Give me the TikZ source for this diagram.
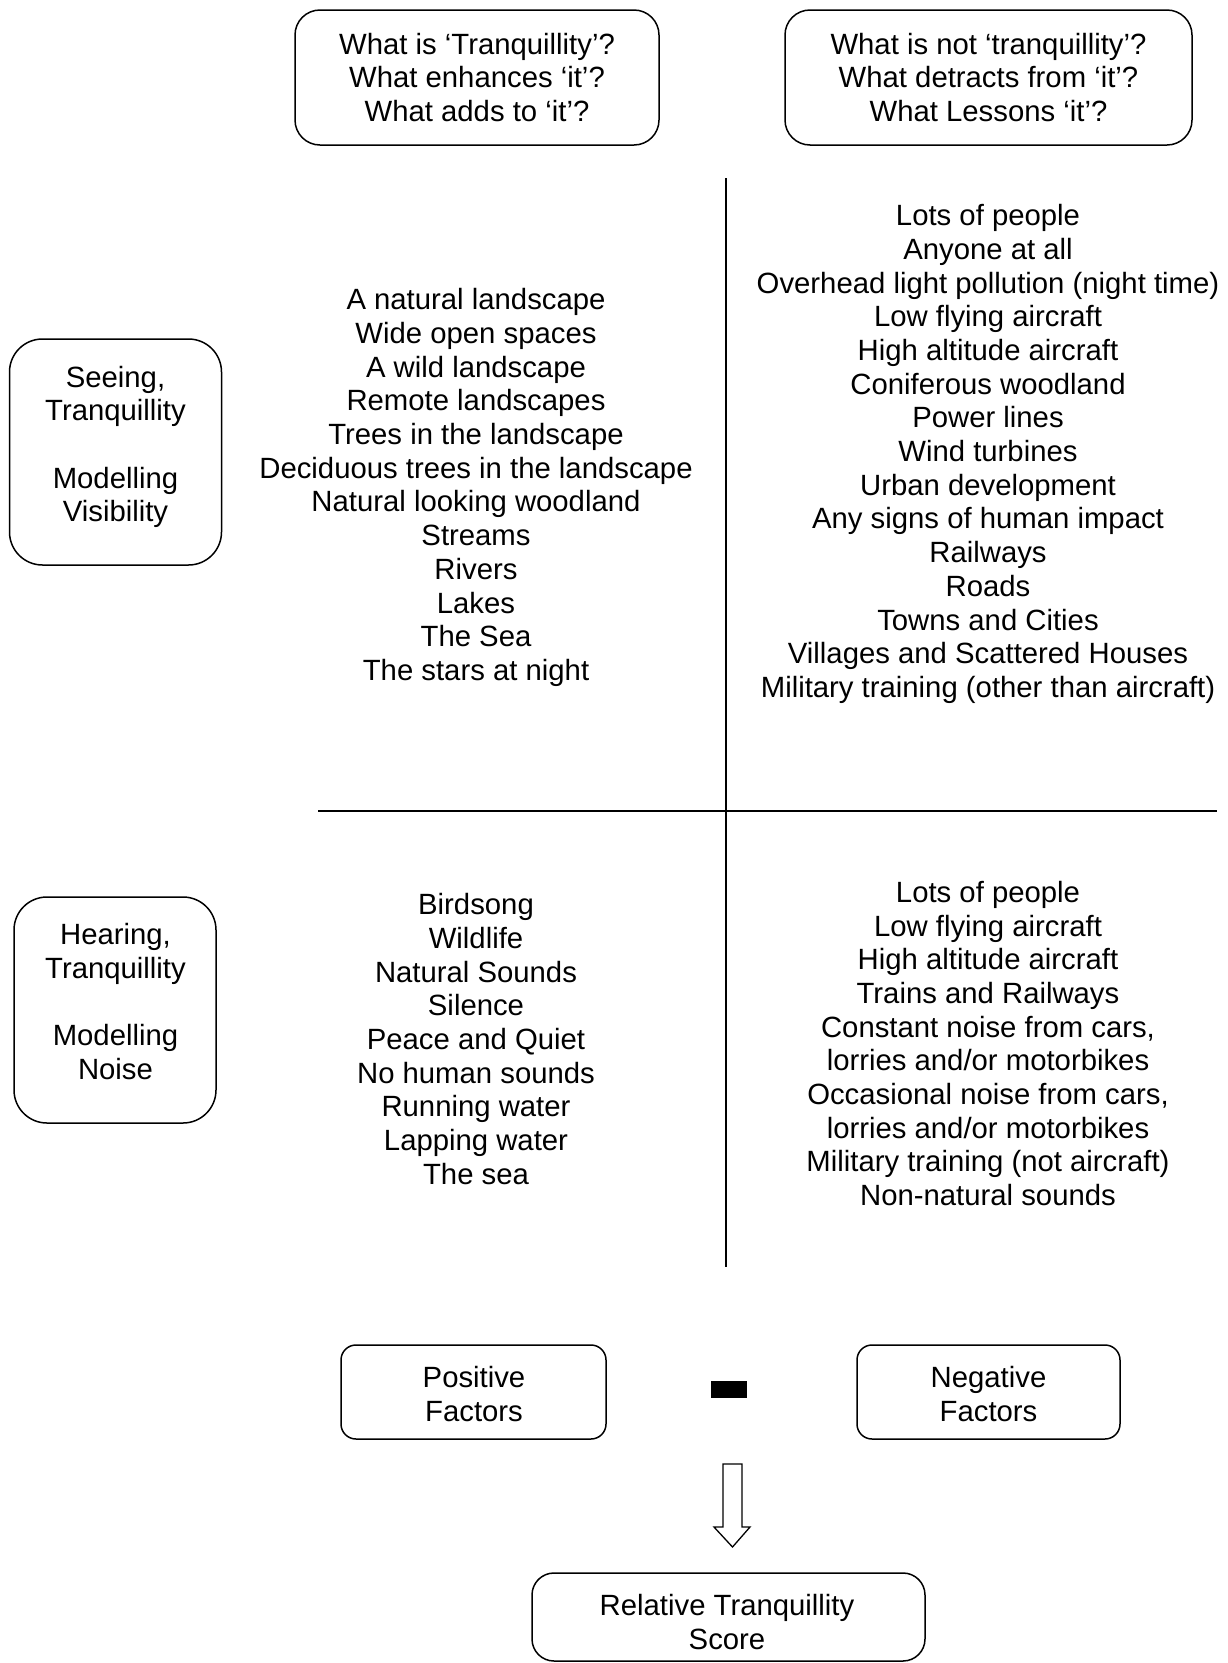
\documentclass[tikz,border=0pt]{standalone}
\usepackage{fontspec}
\setmainfont{Liberation Sans}
\begin{document}
\begin{tikzpicture}[x=1pt,y=-1pt,
  every node/.style={font=\fontsize{29.3}{33.7}\selectfont, align=center, inner sep=0pt},
  rbox/.style={draw, line width=1.5pt, rounded corners=25pt},
  ln/.style={line width=1.6pt}]
\useasboundingbox (0,0) rectangle (1227,1663);
% top question boxes
\node[rbox, minimum width=364, minimum height=135] (q1) at (477,77.5) {What is ‘Tranquillity’?\\What enhances ‘it’?\\What adds to ‘it’?};
\node[rbox, minimum width=407, minimum height=135] (q2) at (988.5,77.5) {What is not ‘tranquillity’?\\What detracts from ‘it’?\\What Lessons ‘it’?};
% left boxes
\node[rbox, rounded corners=33pt, minimum width=212, minimum height=226] (see) at (115.5,452) {};
\node (seetxt) at (115.5,447) {Seeing,\\Tranquillity\\[33.7pt]Modelling\\Visibility};
\node[rbox, rounded corners=33pt, minimum width=202, minimum height=226] (hear) at (115,1010) {};
\node (heartxt) at (115.5,1001.5) {Hearing,\\Tranquillity\\[33.7pt]Modelling\\Noise};
% dividing lines
\coordinate (vtop) at (726,178);
\coordinate (vbot) at (726,1267);
\coordinate (hl) at (318,811);
\coordinate (hr) at (1217,811);
\draw[ln] (vtop) -- (vbot);
\draw[ln] (hl) -- (hr);
% lists
\node (vispos) at (476,487.5) {A natural landscape\\Wide open spaces\\A wild landscape\\Remote landscapes\\Trees in the landscape\\Deciduous trees in the landscape\\Natural looking woodland\\Streams\\Rivers\\Lakes\\The Sea\\The stars at night};
\node (visneg) at (988,454) {Lots of people\\Anyone at all\\Overhead light pollution (night time)\\Low flying aircraft\\High altitude aircraft\\Coniferous woodland\\Power lines\\Wind turbines\\Urban development\\Any signs of human impact\\Railways\\Roads\\Towns and Cities\\Villages and Scattered Houses\\Military training (other than aircraft)};
\node (noipos) at (476,1039) {Birdsong\\Wildlife\\Natural Sounds\\Silence\\Peace and Quiet\\No human sounds\\Running water\\Lapping water\\The sea};
\node (noineg) at (988,1043.5) {Lots of people\\Low flying aircraft\\High altitude aircraft\\Trains and Railways\\Constant noise from cars,\\lorries and/or motorbikes\\Occasional noise from cars,\\lorries and/or motorbikes\\Military training (not aircraft)\\Non-natural sounds};
% factor boxes
\node[rbox, rounded corners=15pt, minimum width=265, minimum height=94] (pos) at (473.5,1392) {};
\node (postxt) at (474,1394) {Positive\\Factors};
\node[rbox, rounded corners=15pt, minimum width=263, minimum height=94] (neg) at (988.5,1392) {};
\node (negtxt) at (988.5,1394) {Negative\\Factors};
\fill (711,1381) rectangle (747,1398);
% arrow
\draw[line width=1.3pt, line join=miter] (723,1464) -- (742,1464) -- (742,1527) -- (750,1527) -- (732.5,1547) -- (714,1527) -- (723,1527) -- cycle;
\node[rbox, rounded corners=22pt, minimum width=393, minimum height=88] (score) at (728.5,1617) {};
\node (scoretxt) at (727,1622) {Relative Tranquillity\\Score};
\end{tikzpicture}
\end{document}
